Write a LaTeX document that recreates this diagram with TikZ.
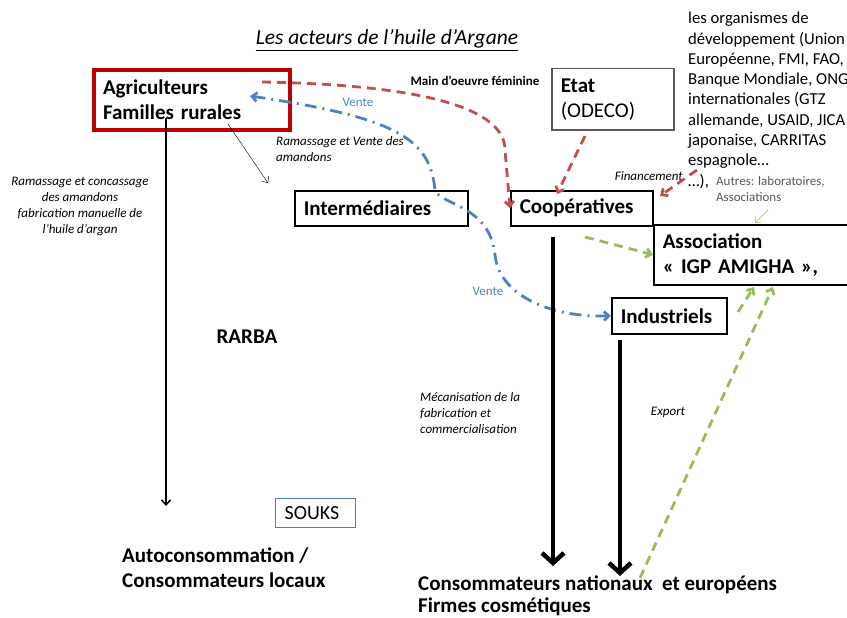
\documentclass[tikz,border=0pt]{standalone}
\usepackage{fontspec}
\setmainfont{Carlito}
\usetikzlibrary{arrows.meta}
\definecolor{c00000}{HTML}{C00000}
\definecolor{c0504d}{HTML}{C0504D}
\definecolor{4f81bd}{HTML}{4F81BD}
\definecolor{9bbb59}{HTML}{9BBB59}
\definecolor{595959}{HTML}{595959}
\newcommand\fsz[2]{\fontsize{#1}{#2}\selectfont}

\begin{document}
\begin{tikzpicture}[x=1pt,y=-1pt,>={Straight Barb[length=5pt,width=9pt]},
box/.style={draw,line width=1.5pt,anchor=north west,align=left,inner xsep=9pt,font=\fsz{21}{25}\bfseries},
reddash/.style={c0504d,line width=2.8pt,dash pattern=on 9pt off 6pt},
greendash/.style={9bbb59,line width=2.8pt,dash pattern=on 9pt off 6pt},
bluedash/.style={4f81bd,line width=2.8pt,dash pattern=on 12pt off 6pt on 2pt off 6pt},
note/.style={align=left,anchor=north west,inner sep=0pt,font=\fsz{13}{16}\itshape}]
\useasboundingbox(0,0)rectangle(847,618);
\clip(0,0)rectangle(847,618);
% boxes
\node[box,c00000,line width=4pt,text=black,minimum width=196,minimum height=60,text width=178](agri)at(92,68){Agriculteurs\\Familles rurales};
\node[box,595959,text=black,minimum width=122,minimum height=61,text width=104](etat)at(551,68){Etat\\\mdseries(ODECO)};
\node[box,minimum width=173,minimum height=35,text width=155](inter)at(294,190){Intermédiaires};
\node[box,minimum width=142,minimum height=35,text width=124](coop)at(510,190){Coopératives};
\node[box,minimum width=220,minimum height=60,text width=202](assoc)at(653,224){Association\\« IGP AMIGHA »,};
\node[box,minimum width=115,minimum height=36,text width=97](indus)at(611,297){Industriels};
\node[box,4f81bd,line width=1.2pt,text=black,minimum width=80,minimum height=29,text width=62,font=\fsz{20}{22}](souks)at(275,498){SOUKS};
% texts
\node(titre)at(387,40){\fsz{21.5}{24}\itshape\underline{Les acteurs de l’huile d’Argane}};
\node(main)at(475,81){\fsz{13}{14}\bfseries Main d’oeuvre féminine};
\node[4f81bd](vente1)at(358,102){\fsz{13}{14}Vente};
\node[4f81bd](vente2)at(488,291){\fsz{13}{14}Vente};
\node[note](ramV)at(276,136){Ramassage et Vente des\\amandons};
\node[note,align=center,anchor=north](ramC)at(80,177){Ramassage et concassage\\des amandons\\fabrication manuelle de\\l’huile d’argan};
\node(rarba)at(247,337){\fsz{21}{24}\bfseries RARBA};
\node[note,font=\fsz{21}{25}\bfseries](auto)at(122,548){Autoconsommation /\\Consommateurs locaux};
\node[note](meca)at(420,392){Mécanisation de la\\fabrication et\\commercialisation};
\node(export)at(668,412){\fsz{13}{14}\itshape Export};
\node[note,font=\fsz{21}{22}\bfseries](natio)at(418,576){Consommateurs nationaux\ \ et européens\\Firmes cosmétiques};
\node[note,font=\fsz{16.7}{20.3}](orgs)at(688,12){les organismes de\\développement (Union\\Européenne, FMI, FAO,\\Banque Mondiale, ONG\\internationales (GTZ\\allemande, USAID, JICA\\japonaise, CARRITAS\\espagnole…\\…),};
\node[note,anchor=north east](finan)at(683,171){Financement};
\node[note,font=\fsz{13}{16},595959](autres)at(716,176){Autres: laboratoires,\\Associations};
% connectors
\coordinate(agriR)at(262,82);
\draw[reddash,->](agriR)..controls(430,85)and(505,110)..(505,150)--(coop.west);
\coordinate(etatB)at(585,136);
\coordinate(coopT)at(557,194);
\draw[reddash,->](etatB)--(coopT);
\coordinate(finA)at(697,170);
\coordinate(coopE)at(660,196);
\draw[reddash,->](finA)--(coopE);
\coordinate(agriV)at(250,96);
\draw[bluedash,<->](agriV)..controls(400,118)and(430,140)..(435,190)..controls(440,205)and(490,205)..(495,255)..controls(500,300)and(560,318)..(indus.west);
\coordinate(coopG)at(585,237);
\draw[greendash,->](coopG)--(assoc.west);
\coordinate(indG)at(738,312);
\coordinate(assocA)at(754,287);
\draw[greendash,->](indG)--(assocA);
\coordinate(natG)at(640,578);
\coordinate(assocB)at(773,287);
\draw[greendash,->](natG)--(assocB);
\coordinate(autrG)at(768,210);
\coordinate(assocT)at(755,223);
\draw[9bbb59,->](autrG)--(assocT);
\coordinate(agriD)at(228,124);
\coordinate(interN)at(268,183);
\draw[->](agriD)--(interN);
\coordinate(agriS)at(166,118);
\coordinate(autoN)at(166,506);
\draw[line width=1.5pt,->](agriS)--(autoN);
\coordinate(coopS)at(553,237);
\coordinate(natA)at(553,566);
\draw[line width=4.5pt,-{Straight Barb[length=10pt,width=22pt]}](coopS)--(natA);
\coordinate(indusS)at(620,340);
\coordinate(natB)at(620,576);
\draw[line width=4.5pt,-{Straight Barb[length=10pt,width=22pt]}](indusS)--(natB);
\end{tikzpicture}
\end{document}
